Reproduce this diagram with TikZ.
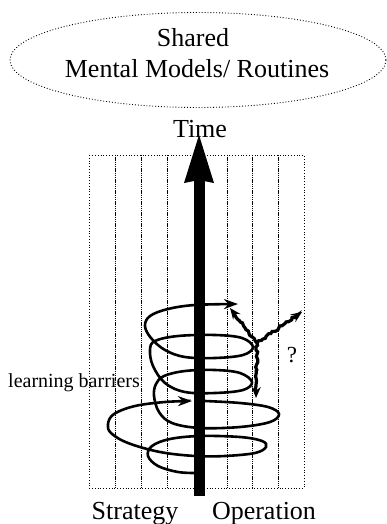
\documentclass[tikz,border=0pt]{standalone}
\usepackage{fontspec}
\setmainfont{Liberation Serif}
\usetikzlibrary{shapes.geometric,arrows.meta,decorations.pathmorphing}
\begin{document}
\begin{tikzpicture}[x=1pt,y=-1pt,
  bigtext/.style={font=\fontsize{26}{31}\selectfont, inner sep=0pt, anchor=base},
  smalltext/.style={font=\fontsize{20}{24}\selectfont, inner sep=0pt, anchor=base},
  frame/.style={dotted, line width=0.8pt},
  strip/.style={line width=1pt, dash pattern=on 1.4pt off 0.8pt},
  coil/.style={line width=2.6pt, line cap=round},
  coilhead/.style={-{Stealth[length=14pt,width=10pt]}},
  rough/.style={line width=3.2pt, decorate,
    decoration={random steps, segment length=2.4pt, amplitude=1.1pt, post length=6pt},
    -{Stealth[length=11pt,width=9pt]}}
]
\pgfmathsetseed{7}
\useasboundingbox (0,0) rectangle (387,524);

% shared mental models ellipse
\node[draw, dotted, line width=0.9pt, ellipse, minimum width=376pt, minimum height=95pt, inner sep=0pt] (smm) at (198,60) {};
\node[bigtext] (shared) at (193,47) {Shared};
\node[bigtext] (mental) at (197,78) {Mental Models/ Routines};

% strips
\draw[frame] (89,155) rectangle (304,488);
\foreach \x in {115,141,167,227,252,278} {
  \draw[strip] (\x,155) -- (\x,488);
}

% spiral
\draw[coil, coilhead] plot[smooth, tension=0.6] coordinates {
 (197,473) (178,472) (158,466) (148,456) (152,446) (170,439) (200,436) (240,437)
 (262,441) (266,447) (255,453) (225,456) (195,456) (160,452) (128,443) (111,433)
 (108,424) (114,414) (135,406) (165,402) (192,401)};
\draw[coil, coilhead] plot[smooth, tension=0.6] coordinates {
 (205,401) (240,403) (268,407) (279,414) (270,422) (240,427) (200,428) (172,423)
 (159,412) (154,396) (156,384) (164,376) (185,371) (215,370) (240,373) (252,382)
 (243,390) (215,393) (185,392) (165,383) (153,366) (150,350) (155,341) (178,336)
 (215,335) (242,338) (253,347) (243,355) (215,358) (185,357) (165,350) (151,338)
 (145,326) (150,316) (168,309) (195,305) (238,304)};

% time arrow
\coordinate (tbot) at (199,496);
\coordinate (hbase) at (199,180);
\coordinate (ttip) at (199,135);
\draw[line width=11pt] (tbot) -- (hbase);
\fill (ttip) -- ++(-15,48) -- ++(15,-3) -- ++(15,3) -- cycle;
\node[bigtext] (time) at (200,137) {Time};

% fork
\coordinate (J) at (257,343);
\coordinate (fa) at (230,308);
\coordinate (fb) at (302,312);
\coordinate (fc) at (256,398);
\draw[rough] (J) -- (fa);
\draw[rough] (J) -- (fb);
\draw[rough] (J) -- (fc);

% labels
\node[smalltext] (barriers) at (74,387) {learning barriers};
\node[font=\fontsize{23}{27}\selectfont, inner sep=0pt, anchor=base] (q) at (292,362) {?};
\node[bigtext] (strategy) at (135,519) {Strategy};
\node[bigtext] (operation) at (264,519) {Operation};
\end{tikzpicture}
\end{document}
